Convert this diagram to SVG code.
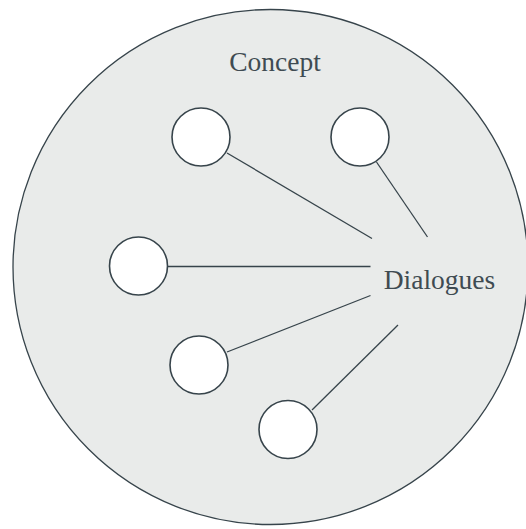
<svg xmlns="http://www.w3.org/2000/svg" width="526" height="529" viewBox="0 0 526 529">
<style>
.bg{fill:#e9ebea;stroke:#37444b;stroke-width:1.3}
.node{fill:#ffffff;stroke:#37444b;stroke-width:1.6}
.conn line{stroke:#37444b;stroke-width:1.3}
.lbl{font-family:"Liberation Serif","DejaVu Serif",serif;font-size:27.5px;fill:#3f4b52;text-anchor:middle}
</style>
<rect width="526" height="529" fill="#ffffff"/>
<g id="concept">
<circle class="bg" cx="270.5" cy="267" r="257.5"/>
<text class="lbl" x="275" y="70.5">Concept</text>
</g>
<g id="connectors" class="conn">
<line x1="227" y1="153" x2="372" y2="238.5"/>
<line x1="376.5" y1="162" x2="427.5" y2="237"/>
<line x1="167" y1="266.5" x2="370.5" y2="266.5"/>
<line x1="227" y1="352" x2="370.5" y2="295.5"/>
<line x1="312" y1="410" x2="398" y2="325"/>
</g>
<g id="dialogues"><text class="lbl" x="439.5" y="289">Dialogues</text></g>
<g id="n1"><circle class="node" cx="201" cy="137" r="29"/></g>
<g id="n2"><circle class="node" cx="360" cy="137" r="29"/></g>
<g id="n3"><circle class="node" cx="138.5" cy="266" r="29"/></g>
<g id="n4"><circle class="node" cx="199" cy="365" r="29"/></g>
<g id="n5"><circle class="node" cx="288" cy="429.5" r="29"/></g>
</svg>
